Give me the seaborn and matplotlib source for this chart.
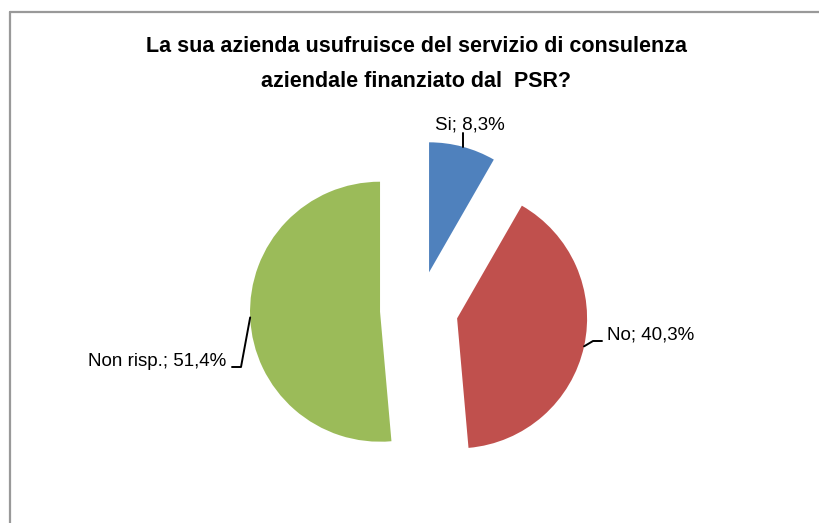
import matplotlib
matplotlib.use("Agg")
import numpy as np
import seaborn as sns
import matplotlib.pyplot as plt
from matplotlib.lines import Line2D

# dati
risposte = ["Si", "No", "Non risp."]
percentuali = [8.3, 40.3, 51.4]
colori = ["#4F81BD", "#C0504D", "#9BBB59"]
titolo = "La sua azienda usufruisce del servizio di consulenza\naziendale finanziato dal  PSR?"

sns.set_theme(style="white")
plt.rcParams['font.family'] = ['Liberation Sans', 'DejaVu Sans']

W, H = 819, 523
R = 130
fig = plt.figure(figsize=(W / 100, H / 100), dpi=100)
ax = fig.add_axes([0, 0, 1, 1])

# in matplotlib explode e' in unita' dati: 0.3 del raggio
wedges, _ = ax.pie(percentuali, colors=colori, startangle=90, counterclock=False,
                   explode=[0.3 * R] * 3, radius=R, center=(419, H - 310),
                   wedgeprops=dict(linewidth=0))
ax.set_xlim(0, W)
ax.set_ylim(0, H)
ax.set_aspect('equal')
ax.axis('off')

# posizione etichette: (x testo, y testo, allineamento, gomito)
etichette = [
    (470, H - 125, 'center', None),
    (607, H - 335, 'left', -9),
    (226, H - 361, 'right', 9),
]

for w, nome, p, (tx, ty, ha, gomito) in zip(wedges, risposte, percentuali, etichette):
    ang = np.deg2rad((w.theta1 + w.theta2) / 2)
    cx, cy = w.center
    px, py = cx + w.r * np.cos(ang), cy + w.r * np.sin(ang)
    testo = f"{nome}; " + f"{p:.1f}".replace(".", ",") + "%"
    ax.text(tx, ty, testo, ha=ha, va='center', fontsize=13.5, color='black')
    if gomito is None:
        ax.plot([px, px], [py, ty - 8], color='black', lw=1.4)
    else:
        ex = tx - 5 if ha == 'left' else tx + 6
        ax.plot([px, ex + gomito, ex], [py, ty - 6, ty - 6], color='black', lw=1.4)

fig.text(416 / W, 1 - 64 / H, titolo, ha='center', va='center', fontsize=15.5,
         fontweight='bold', linespacing=1.85, color='black')

# cornice del grafico
fig.add_artist(Line2D([9.5 / W, 9.5 / W], [0, 1 - 11.5 / H], color='#999999', lw=1.6,
                      transform=fig.transFigure))
fig.add_artist(Line2D([9.5 / W, 1], [1 - 11.5 / H, 1 - 11.5 / H], color='#999999', lw=1.6,
                      transform=fig.transFigure))

fig.savefig("out.png", dpi=100)
